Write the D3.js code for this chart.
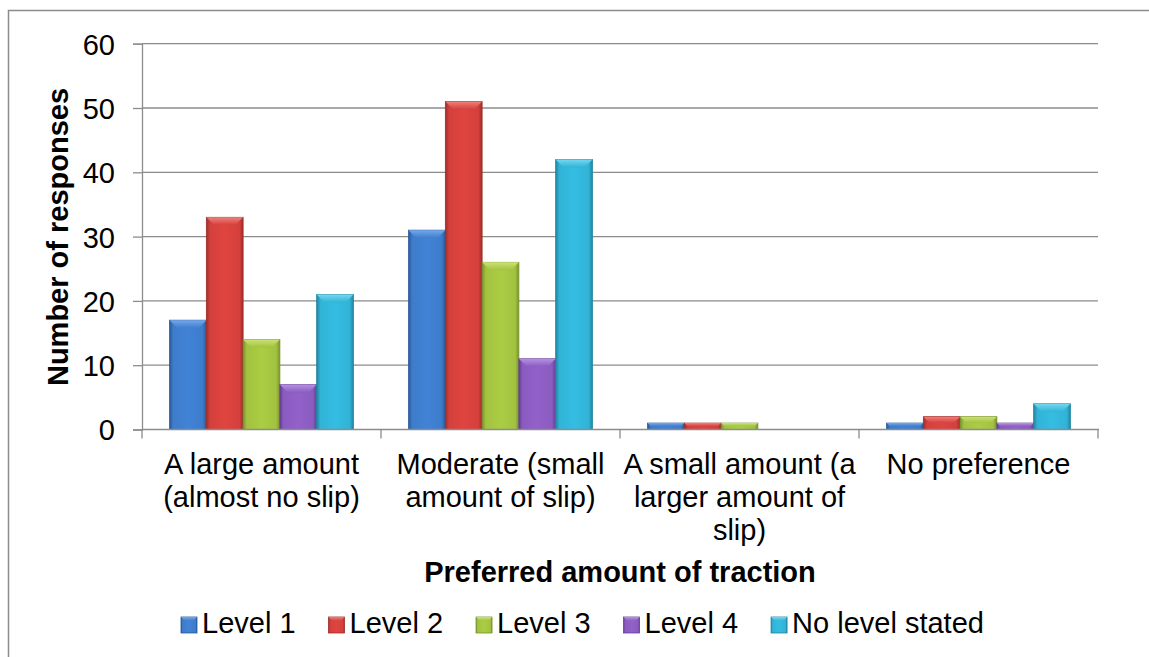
<!DOCTYPE html>
<html>
<head>
<meta charset="utf-8">
<script src="https://cdn.jsdelivr.net/npm/d3@7"></script>
<style>
  body { margin: 0; background: #fff; }
  svg text { font-family: "Liberation Sans", Arial, sans-serif; fill: #000; }
</style>
</head>
<body>
<svg id="chart" width="1149" height="657"></svg>
<script>
// categories (wrapped as in the original tick labels)
const categories = ["large", "moderate", "small", "none"];
const categoryLabels = [
  ["A large amount", "(almost no slip)"],
  ["Moderate (small", "amount of slip)"],
  ["A small amount (a", "larger amount of", "slip)"],
  ["No preference"]
];
const seriesNames = ["Level 1", "Level 2", "Level 3", "Level 4", "No level stated"];
const level1 = [17, 31, 1, 1];
const level2 = [33, 51, 1, 2];
const level3 = [14, 26, 1, 2];
const level4 = [7, 11, 0, 1];
const noLevel = [21, 42, 0, 4];
const yTicks = [0, 10, 20, 30, 40, 50, 60];

const seriesValues = [level1, level2, level3, level4, noLevel];

// base / dark edge / light bevel colours per series
const palette = [
  { base: "#3e7ccb", dark: "#2a5a98", light: "#74a8ea" },
  { base: "#d4403c", dark: "#9e2d2a", light: "#ef7f7a" },
  { base: "#a2c240", dark: "#78922e", light: "#cbe274" },
  { base: "#8a5cbf", dark: "#643e92", light: "#b592e2" },
  { base: "#31b3d6", dark: "#2185a1", light: "#74d8f1" }
];

const FS = "29px";
const svg = d3.select("#chart");
const margin = { left: 142, right: 1098, top: 43.7, bottom: 429.5 };

// outer chart frame (right and bottom run off the picture)
svg.append("rect")
  .attr("x", 8.5).attr("y", 10.5)
  .attr("width", 1200).attr("height", 700)
  .attr("fill", "none").attr("stroke", "#8c8c8c").attr("stroke-width", 1.5);

const x = d3.scaleBand()
  .domain(categories)
  .range([margin.left, margin.right]);

const xInner = d3.scaleBand()
  .domain(seriesNames)
  .range([0, x.bandwidth()])
  .paddingOuter(0.75);

const y = d3.scaleLinear()
  .domain([0, 60])
  .range([margin.bottom, margin.top]);

// gradients for the bevelled bars
const defs = svg.append("defs");
palette.forEach((p, i) => {
  const g = defs.append("linearGradient").attr("id", "body" + i)
    .attr("x1", 0).attr("x2", 1).attr("y1", 0).attr("y2", 0);
  g.append("stop").attr("offset", 0).attr("stop-color", p.dark);
  g.append("stop").attr("offset", 0.1).attr("stop-color", p.base);
  g.append("stop").attr("offset", 0.5).attr("stop-color", d3.color(p.base).brighter(0.15));
  g.append("stop").attr("offset", 0.9).attr("stop-color", p.base);
  g.append("stop").attr("offset", 1).attr("stop-color", p.dark);
  const t = defs.append("linearGradient").attr("id", "top" + i)
    .attr("x1", 0).attr("x2", 0).attr("y1", 0).attr("y2", 1);
  t.append("stop").attr("offset", 0).attr("stop-color", p.light);
  t.append("stop").attr("offset", 1).attr("stop-color", p.base);
});

// gridlines
svg.append("g")
  .selectAll("line")
  .data(yTicks.filter(d => d > 0))
  .join("line")
  .attr("x1", margin.left).attr("x2", margin.right)
  .attr("y1", d => y(d)).attr("y2", d => y(d))
  .attr("stroke", "#8c8c8c").attr("stroke-width", 1.3);

// y axis
const yAxis = svg.append("g")
  .attr("transform", `translate(${margin.left},0)`)
  .call(d3.axisLeft(y).tickValues(yTicks).tickSize(9).tickPadding(18));
yAxis.select(".domain").attr("stroke", "#8c8c8c").attr("stroke-width", 1.3);
yAxis.selectAll(".tick line").attr("stroke", "#8c8c8c").attr("stroke-width", 1.3);
yAxis.selectAll(".tick text")
  .style("font-size", FS)
  .attr("dy", "0.36em");

// bars
const groups = svg.append("g")
  .selectAll("g")
  .data(categories)
  .join("g")
  .attr("transform", d => `translate(${x(d)},0)`);

groups.each(function(cat, ci) {
  const g = d3.select(this);
  seriesNames.forEach((s, si) => {
    const v = seriesValues[si][ci];
    if (!v) return;
    const bx = xInner(s), bw = xInner.bandwidth();
    const by = y(v), bh = y(0) - y(v);
    g.append("rect")
      .attr("x", bx).attr("y", by)
      .attr("width", bw).attr("height", bh)
      .attr("fill", `url(#body${si})`)
      .attr("stroke", palette[si].dark).attr("stroke-width", 0.8);
    const b = Math.min(8, bh / 2);
    g.append("polygon")
      .attr("points", [[bx, by], [bx + bw, by], [bx + bw - b, by + b], [bx + b, by + b]].map(p => p.join(",")).join(" "))
      .attr("fill", `url(#top${si})`);
  });
});

// x axis line with ticks between categories
svg.append("line")
  .attr("x1", margin.left).attr("x2", margin.right + 1)
  .attr("y1", y(0)).attr("y2", y(0))
  .attr("stroke", "#8c8c8c").attr("stroke-width", 1.3);
const bounds = categories.map(c => x(c)).concat([margin.right]);
svg.append("g")
  .selectAll("line")
  .data(bounds)
  .join("line")
  .attr("x1", d => d).attr("x2", d => d)
  .attr("y1", y(0)).attr("y2", y(0) + 9)
  .attr("stroke", "#8c8c8c").attr("stroke-width", 1.3);

// category labels
svg.append("g")
  .selectAll("text")
  .data(categories)
  .join("text")
  .attr("x", d => x(d) + x.bandwidth() / 2)
  .attr("y", 474)
  .attr("text-anchor", "middle")
  .style("font-size", FS)
  .each(function(d, i) {
    d3.select(this).selectAll("tspan")
      .data(categoryLabels[i])
      .join("tspan")
      .attr("x", x(d) + x.bandwidth() / 2)
      .attr("dy", (l, j) => j === 0 ? 0 : 33)
      .text(l => l);
  });

// axis titles
svg.append("text")
  .attr("transform", "translate(68,237) rotate(-90)")
  .attr("text-anchor", "middle")
  .style("font-size", FS).style("font-weight", "bold")
  .text("Number of responses");

svg.append("text")
  .attr("x", (margin.left + margin.right) / 2)
  .attr("y", 582)
  .attr("text-anchor", "middle")
  .style("font-size", FS).style("font-weight", "bold")
  .text("Preferred amount of traction");

// legend
const legend = svg.append("g");
let lx = 181;
seriesNames.forEach((s, si) => {
  legend.append("rect")
    .attr("x", lx).attr("y", 617).attr("width", 16).attr("height", 16)
    .attr("fill", `url(#body${si})`)
    .attr("stroke", palette[si].dark).attr("stroke-width", 0.8);
  legend.append("polygon")
    .attr("points", [[lx, 617], [lx + 16, 617], [lx + 12, 621], [lx + 4, 621]].map(p => p.join(",")).join(" "))
    .attr("fill", `url(#top${si})`);
  const t = legend.append("text")
    .attr("x", lx + 21).attr("y", 633)
    .style("font-size", FS)
    .text(s);
  lx += 21 + t.node().getComputedTextLength() + 33;
});
</script>
</body>
</html>
